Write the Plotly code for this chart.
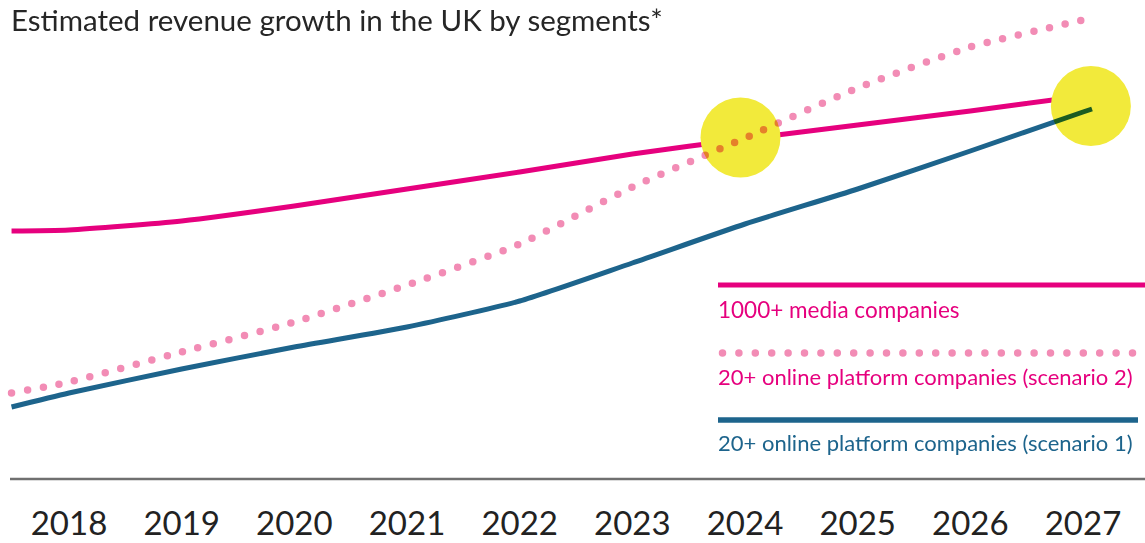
import plotly.graph_objects as go

# ---- data (index units; higher = more revenue) ----
years = [2018, 2019, 2020, 2021, 2022, 2023, 2024, 2025, 2026, 2027]
year_labels = [str(y) for y in years]
x_points = [2017.49, 2018, 2019, 2020, 2021, 2022, 2023, 2024, 2025, 2026, 2027, 2027.08]
media_1000 = [248, 249, 258, 273, 290, 307, 325, 340, 354, 368, 383, 384]
online_s2 = [86, 97, 127, 157, 194, 235, 292, 341, 391, 432, 459, 461]
online_s1 = [72, 86, 110, 132, 152, 178, 216, 255, 290, 328, 367, 370]
highlight_x = [2023.96, 2027.07]
highlight_y = [341.5, 373]

series_names = ["1000+ media companies",
                "20+ online platform companies (scenario 2)",
                "20+ online platform companies (scenario 1)"]
title_text = "Estimated revenue growth in the UK by segments*"

PINK = "#e6007e"
LIGHT_PINK = "#f28cb5"
BLUE = "#1d648c"
YELLOW = "#f2ea3b"
FONT = "Lato"

W, H = 1145, 543
PLOT_H = 479

fig = go.Figure()
fig.add_trace(go.Scatter(x=x_points, y=media_1000, mode="lines", name=series_names[0],
                         line=dict(color=PINK, width=5, shape="spline", smoothing=0.6)))
fig.add_trace(go.Scatter(x=highlight_x, y=highlight_y, mode="markers", name="highlight",
                         marker=dict(size=80, color=YELLOW, line=dict(width=0))))
fig.add_trace(go.Scatter(x=x_points, y=online_s2, mode="lines", name=series_names[1],
                         line=dict(color=LIGHT_PINK, width=7.5, dash="0px,16px", shape="spline", smoothing=0.6)))
fig.add_trace(go.Scatter(x=x_points, y=online_s1, mode="lines", name=series_names[2],
                         line=dict(color=BLUE, width=5, shape="spline", smoothing=0.6)))

px_per_year = (1083 - 69) / 9.0
x0 = 2018 - 69 / px_per_year
x1 = x0 + W / px_per_year

fig.update_layout(
    width=W, height=H,
    margin=dict(l=0, r=0, t=0, b=H - PLOT_H, pad=0, autoexpand=False),
    paper_bgcolor="white", plot_bgcolor="white",
    showlegend=False,
    font=dict(family=FONT, color="#222222"),
    xaxis=dict(range=[x0, x1], tickvals=years, ticktext=year_labels, showgrid=False,
               zeroline=False, showline=False, ticks="", ticklabelstandoff=22,
               automargin=False,
               tickfont=dict(size=33, color="#222222", family=FONT), fixedrange=True),
    yaxis=dict(range=[0, PLOT_H], visible=False, fixedrange=True, automargin=False),
)

def px(x):
    return x / W

def py(y):
    return PLOT_H - y

shapes = [
    dict(type="line", xref="paper", yref="paper", x0=px(10), x1=1, y0=0, y1=0,
         line=dict(color="#707070", width=2.7)),
    dict(type="line", xref="paper", yref="y", x0=px(718), x1=1, y0=py(285), y1=py(285),
         line=dict(color=PINK, width=5)),
    dict(type="line", xref="paper", yref="y", x0=px(722.5), x1=1.01, y0=py(353), y1=py(353),
         line=dict(color=LIGHT_PINK, width=7.5, dash="0px,16.4px")),
    dict(type="line", xref="paper", yref="y", x0=px(718), x1=px(1138), y0=py(420), y1=py(420),
         line=dict(color=BLUE, width=5.5)),
]
fig.update_layout(shapes=shapes)

annotations = [
    dict(text=title_text, xref="paper", yref="y", x=px(9), y=py(19), xanchor="left",
         yanchor="middle", showarrow=False, font=dict(size=29.5, color="#262626", family=FONT)),
    dict(text=series_names[0], xref="paper", yref="y", x=px(716), y=py(309), xanchor="left",
         yanchor="middle", showarrow=False, font=dict(size=22.5, color=PINK, family=FONT)),
    dict(text=series_names[1], xref="paper", yref="y", x=px(716), y=py(376), xanchor="left",
         yanchor="middle", showarrow=False, font=dict(size=22, color=PINK, family=FONT)),
    dict(text=series_names[2], xref="paper", yref="y", x=px(716), y=py(442), xanchor="left",
         yanchor="middle", showarrow=False, font=dict(size=22, color=BLUE, family=FONT)),
]
fig.update_layout(annotations=annotations)

post = """
document.body.style.margin = '0';
document.body.style.padding = '0';
var gd = document.getElementById('{plot_id}');
function fixStyles(){
  var traces = gd.querySelectorAll('.scatterlayer .trace');
  if (traces.length >= 4) {
    traces[2].style.mixBlendMode = 'multiply';
    traces[3].style.mixBlendMode = 'multiply';
  }
  gd.querySelectorAll('path').forEach(function(p){
    var d = p.style.strokeDasharray;
    if (d && d !== 'none' && d.indexOf('0px') === 0) { p.style.strokeLinecap = 'round'; }
  });
}
fixStyles();
"""
fig.write_html("out.html", post_script=post, config={"displayModeBar": False})
